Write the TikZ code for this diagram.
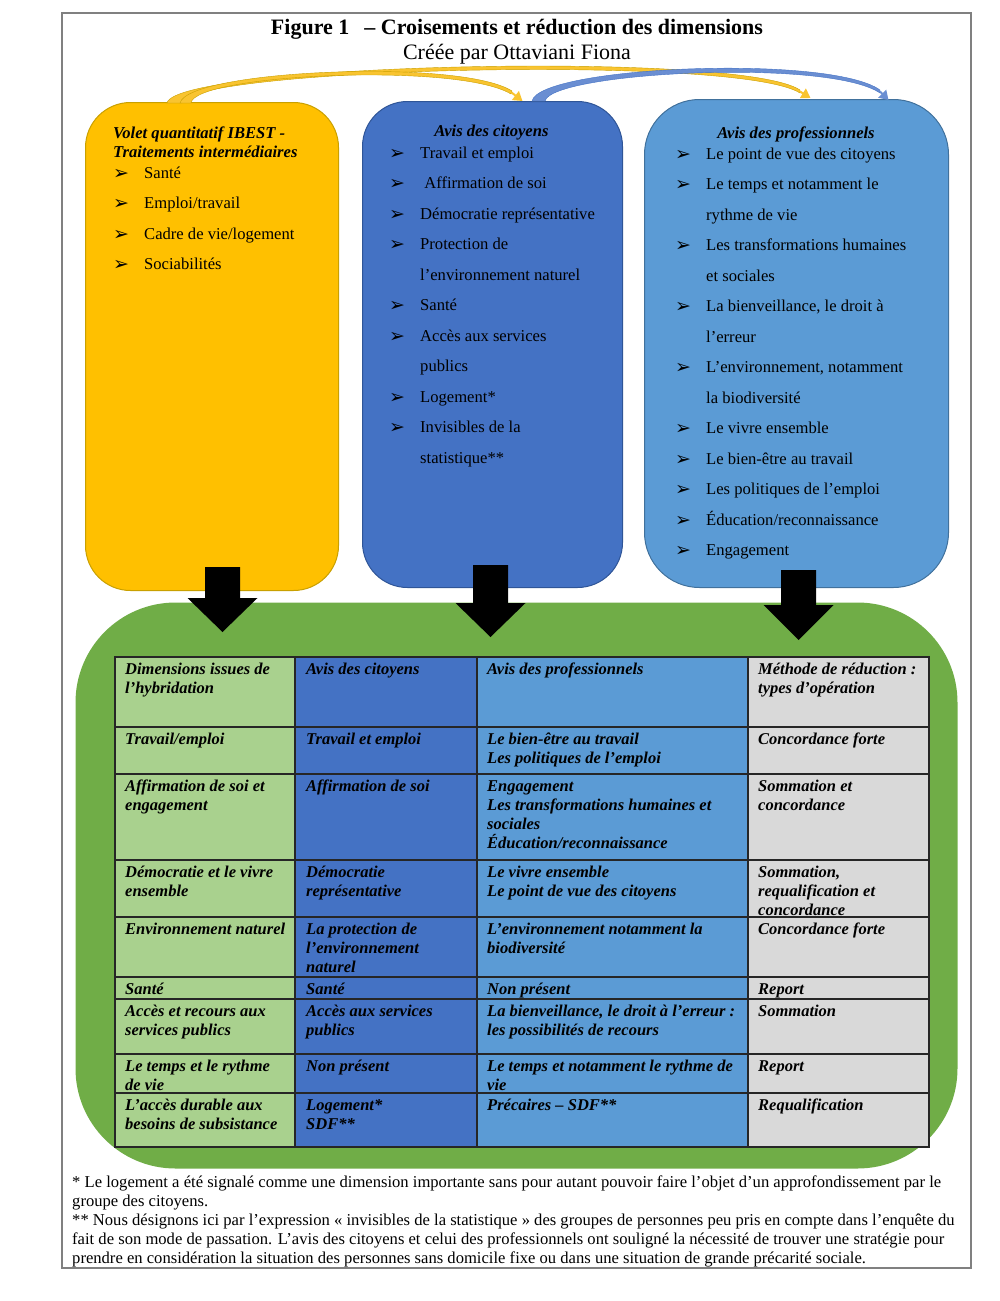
\documentclass[tikz,border=0pt]{standalone}
\usepackage{fontspec}
\setmainfont{Liberation Serif}
\newfontfamily\arrowfont{DejaVu Sans}
\usetikzlibrary{arrows.meta,calc}

\definecolor{ibestyellow}{HTML}{FFC000}
\definecolor{ibestedge}{HTML}{C9A000}
\definecolor{citblue}{HTML}{4472C4}
\definecolor{citedge}{HTML}{2F5597}
\definecolor{problue}{HTML}{5B9BD5}
\definecolor{proedge}{HTML}{41719C}
\definecolor{hybgreen}{HTML}{70AD47}
\definecolor{lightgreen}{HTML}{A9D18E}
\definecolor{methgray}{HTML}{D9D9D9}
\definecolor{ribbonyellow}{HTML}{F9C430}
\definecolor{ribbonblue}{HTML}{6A8ED2}

% bullet and continuation line of the lists
\newcommand{\bull}{\makebox[31pt][l]{\raisebox{-1pt}{\arrowfont\fontsize{19}{19}\selectfont ➢}}}
\newcommand{\itm}[1]{\bull#1}
\newcommand{\cnt}[1]{\hspace*{31pt}#1}

\begin{document}
\begin{tikzpicture}[x=1pt, y=-1pt,
    box/.style={draw, line width=1pt, anchor=north west, inner sep=0pt},
    boxtitle/.style={inner sep=0pt, align=left, font=\fontsize{16.6}{19}\selectfont\bfseries\itshape},
    listtext/.style={anchor=north west, inner sep=0pt, align=left, font=\fontsize{16.6}{30.5}\selectfont},
    cell/.style={anchor=north west, inner sep=0pt, align=left, font=\fontsize{16.5}{19}\selectfont\bfseries\itshape},
    grid/.style={draw=black!85, line width=1.1pt},
    yribbon/.style={fill=ribbonyellow, draw=ibestedge, line width=0.4pt},
    bribbon/.style={fill=ribbonblue, draw=citblue, line width=0.4pt},
    yhead/.style={draw=ribbonyellow, line width=2pt, -{Triangle[length=9pt,width=11pt]}},
    bhead/.style={draw=ribbonblue, line width=2pt, -{Triangle[length=9pt,width=11pt]}}]

    \useasboundingbox (0,0) rectangle (1000,1301);
    \draw[gray, line width=1.2pt] (62,13) rectangle (971,1268);

    % Title
    \node[anchor=base, inner sep=0pt, font=\fontsize{22}{26}\selectfont\bfseries] (title) at (517,34)
        {Figure 1\hspace{15pt}– Croisements et réduction des dimensions};
    \node[anchor=base, inner sep=0pt, font=\fontsize{22}{26}\selectfont] (author) at (517,59)
        {Créée par Ottaviani Fiona};

    % Boxes {volet, citoyens, pros, hybride}
    \node[box, fill=ibestyellow, draw=ibestedge, rounded corners=45pt,
          minimum width=253pt, minimum height=488pt] (volet) at (85,102) {};
    \node[box, fill=citblue, draw=citedge, rounded corners=45pt,
          minimum width=260pt, minimum height=486pt] (citoyens) at (362,101) {};
    \node[box, fill=problue, draw=proedge, rounded corners=55pt,
          minimum width=304pt, minimum height=488pt] (pros) at (644,99) {};
    \node[box, fill=hybgreen, draw=none, rounded corners=100pt,
          minimum width=882pt, minimum height=566pt] (hybride) at (75,602) {};

    % Box texts
    \node[boxtitle, anchor=north west] (volettitle) at (113,124.7)
        {\strut Volet quantitatif IBEST -\\Traitements intermédiaires};
    \node[listtext] (voletlist) at (113,156.1) {\fontsize{16.6}{31.3}\selectfont\strut
        \itm{Santé}\\ \itm{Emploi/travail}\\ \itm{Cadre de vie/logement}\\ \itm{Sociabilités}};

    \node[boxtitle, anchor=base] (cittitle) at (491.5,136) {Avis des citoyens};
    \node[listtext] (citlist) at (389,136.6) {\strut
        \itm{Travail et emploi}\\ \itm{ Affirmation de soi}\\ \itm{Démocratie représentative}\\
        \itm{Protection de}\\ \cnt{l’environnement naturel}\\ \itm{Santé}\\
        \itm{Accès aux services}\\ \cnt{publics}\\ \itm{Logement*}\\
        \itm{Invisibles de la}\\ \cnt{statistique**}};

    \node[boxtitle, anchor=base] (protitle) at (796,138) {Avis des professionnels};
    \node[listtext] (prolist) at (675,137.7) {\strut
        \itm{Le point de vue des citoyens}\\ \itm{Le temps et notamment le}\\ \cnt{rythme de vie}\\
        \itm{Les transformations humaines}\\ \cnt{et sociales}\\
        \itm{La bienveillance, le droit à}\\ \cnt{l’erreur}\\
        \itm{L’environnement, notamment}\\ \cnt{la biodiversité}\\
        \itm{Le vivre ensemble}\\ \itm{Le bien-être au travail}\\ \itm{Les politiques de l’emploi}\\
        \itm{Éducation/reconnaissance}\\ \itm{Engagement}};

    % Curved arrows
    \fill[yribbon] (167,103) .. controls (175,64) and (740,50) .. (800,90)
        -- (800,93) .. controls (738,54) and (186,68) .. (182,103) -- cycle;
    \draw[yhead] (800,91.5) -- ($(pros.north)+(14,-1)$);
    \fill[yribbon] (180,103) .. controls (188,70) and (460,58) .. (512,91)
        -- (511,94) .. controls (458,62) and (195,74) .. (191,103) -- cycle;
    \draw[yhead] (511.5,92.5) -- ($(citoyens.north)+(30,0)$);
    \fill[bribbon] (532,101) .. controls (540,66) and (830,54) .. (880,90)
        -- (880,93) .. controls (828,58) and (552,72) .. (545,101) -- cycle;
    \draw[bhead] (880,91.5) -- ($(pros.north)+(92,1)$);

    % Table
    \fill[lightgreen] (115,657) rectangle (295,1147);
    \fill[citblue] (295,657) rectangle (477,1147);
    \fill[problue] (477,657) rectangle (748,1147);
    \fill[methgray] (748,657) rectangle (929,1147);
    \draw[grid] (115,657) rectangle (929,1147);
    \foreach \x in {295,477,748}
        \draw[grid] (\x,657) -- (\x,1147);
    \foreach \y in {727,774,860,917,977,999,1054,1093}
        \draw[grid] (115,\y) -- (929,\y);

    \foreach \t/\ca/\cb/\cc/\cd [count=\r] in {
        657/{Dimensions issues de\\l’hybridation}/{Avis des citoyens}/{Avis des professionnels}/{Méthode de réduction :\\types d’opération},
        727/{Travail/emploi}/{Travail et emploi}/{Le bien-être au travail\\Les politiques de l’emploi}/{Concordance forte},
        774/{Affirmation de soi et\\engagement}/{Affirmation de soi}/{Engagement\\Les transformations humaines et\\sociales\\Éducation/reconnaissance}/{Sommation et\\concordance},
        860/{Démocratie et le vivre\\ensemble}/{Démocratie\\représentative}/{Le vivre ensemble\\Le point de vue des citoyens}/{Sommation,\\requalification et\\concordance},
        917/{Environnement naturel}/{La protection de\\l’environnement\\naturel}/{L’environnement notamment la\\biodiversité}/{Concordance forte},
        977/{Santé}/{Santé}/{Non présent}/{Report},
        999/{Accès et recours aux\\services publics}/{Accès aux services\\publics}/{La bienveillance, le droit à l’erreur :\\les possibilités de recours}/{Sommation},
        1054/{Le temps et le rythme\\de vie}/{Non présent}/{Le temps et notamment le rythme de\\vie}/{Report},
        1093/{L’accès durable aux\\besoins de subsistance}/{Logement*\\SDF**}/{Précaires – SDF**}/{Requalification}} {
        \node[cell] (r\r-a) at (125,\t+3.7) {\strut\ca};
        \node[cell] (r\r-b) at (306,\t+3.7) {\strut\cb};
        \node[cell] (r\r-c) at (487,\t+3.7) {\strut\cc};
        \node[cell] (r\r-d) at (758,\t+3.7) {\strut\cd};
    }

    % Block arrows
    \foreach \x/\t/\b/\p in {222.5/567/598/632, 490.5/565/603/637, 798.5/570/605/640}
        \fill[black] (\x-17.5,\t) -- (\x+17.5,\t) -- (\x+17.5,\b) -- (\x+35,\b) -- (\x,\p)
            -- (\x-35,\b) -- (\x-17.5,\b) -- cycle;

    % Footnotes
    \node[anchor=north west, inner sep=0pt, align=left, font=\fontsize{16.6}{19}\selectfont] (notes) at (72,1173.7)
        {\strut * Le logement a été signalé comme une dimension importante sans pour autant pouvoir faire l’objet d’un approfondissement par le\\
        groupe des citoyens.\\
        {}** Nous désignons ici par l’expression « invisibles de la statistique » des groupes de personnes peu pris en compte dans l’enquête du\\
        fait de son mode de passation. L’avis des citoyens et celui des professionnels ont souligné la nécessité de trouver une stratégie pour\\
        prendre en considération la situation des personnes sans domicile fixe ou dans une situation de grande précarité sociale.};
\end{tikzpicture}
\end{document}
